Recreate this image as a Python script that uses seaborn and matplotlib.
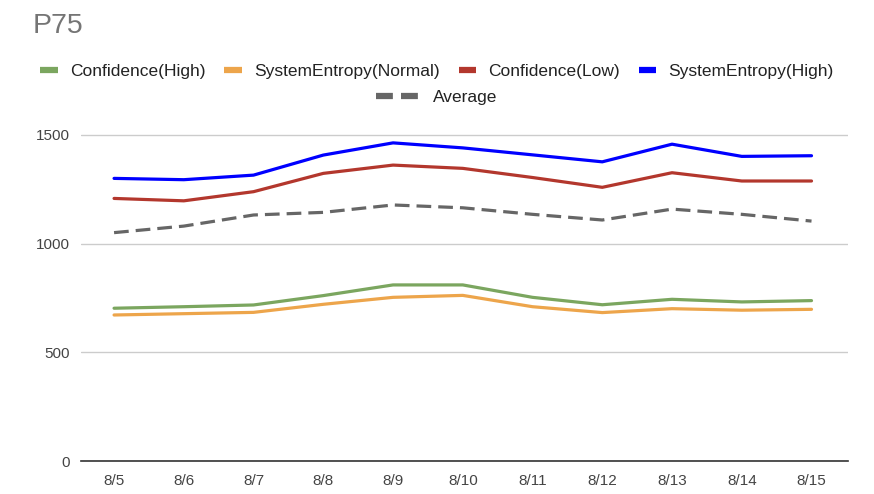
import pandas as pd
import numpy as np
import matplotlib.pyplot as plt
import seaborn as sns
from matplotlib.lines import Line2D

# Data
dates = ["8/5", "8/6", "8/7", "8/8", "8/9", "8/10", "8/11", "8/12", "8/13", "8/14", "8/15"]
conf_high = [703, 710, 718, 761, 810, 810, 753, 719, 744, 732, 738]
entropy_normal = [672, 678, 684, 721, 753, 762, 710, 683, 701, 694, 698]
conf_low = [1207, 1196, 1238, 1322, 1360, 1345, 1303, 1258, 1325, 1287, 1287]
entropy_high = [1299, 1293, 1314, 1406, 1462, 1439, 1407, 1375, 1456, 1400, 1403]
average = [1050, 1080, 1131, 1143, 1177, 1164, 1134, 1108, 1158, 1134, 1103]

series = {
    "Confidence(High)": conf_high,
    "SystemEntropy(Normal)": entropy_normal,
    "Confidence(Low)": conf_low,
    "SystemEntropy(High)": entropy_high,
    "Average": average,
}
colors = {
    "Confidence(High)": "#7ba65f",
    "SystemEntropy(Normal)": "#eda54b",
    "Confidence(Low)": "#b3372d",
    "SystemEntropy(High)": "#0000ff",
    "Average": "#666666",
}

df = pd.DataFrame(series)
df["date"] = dates
long_df = df.melt(id_vars="date", var_name="series", value_name="value")

sns.set_style("white")
plt.rcParams["font.family"] = ["Liberation Sans", "DejaVu Sans"]

fig = plt.figure(figsize=(8.74, 4.94), dpi=100)
ax = fig.add_axes([0.093, 0.066, 0.877, 0.688])

for name in series:
    sub = long_df[long_df["series"] == name]
    dashed = name == "Average"
    sns.lineplot(data=sub, x="date", y="value", ax=ax, color=colors[name],
                 linewidth=2.3, linestyle=(0, (4.6, 2.2)) if dashed else "-",
                 sort=False, legend=False)

ax.set_xlim(-0.47, 10.52)
ax.set_ylim(0, 1560)
ax.set_yticks([0, 500, 1000, 1500])
ax.grid(axis="y", color="#cccccc", linewidth=1)
ax.grid(axis="x", visible=False)
ax.set_xlabel("")
ax.set_ylabel("")
for s in ["top", "right", "left"]:
    ax.spines[s].set_visible(False)
ax.spines["bottom"].set_color("#333333")
ax.spines["bottom"].set_linewidth(1.2)
ax.tick_params(axis="both", length=0, labelsize=11, labelcolor="#444444")
ax.tick_params(axis="x", pad=9)
ax.tick_params(axis="y", pad=8)

fig.text(0.037, 0.947, "P75", fontsize=20.5, color="#757575", va="center", ha="left")

# legend: 4 entries in first row, Average centered below
handles = [Line2D([0], [0], color=colors[n], linewidth=4.5, solid_capstyle="butt")
           for n in list(series)[:4]]
fig.legend(handles, list(series)[:4], loc="center", bbox_to_anchor=(0.5, 0.856),
           ncol=4, frameon=False, fontsize=12.5, handlelength=1.0,
           handletextpad=0.7, columnspacing=1.1, labelcolor="#222222")
avg_handle = Line2D([0], [0], color=colors["Average"], linewidth=4.5,
                    linestyle=(0, (2.7, 1.3)), dash_capstyle="butt")
fig.legend([avg_handle], ["Average"], loc="center", bbox_to_anchor=(0.5, 0.803),
           frameon=False, fontsize=12.5, handlelength=2.4, handletextpad=0.9,
           labelcolor="#222222")

fig.savefig("out.png", dpi=100)
